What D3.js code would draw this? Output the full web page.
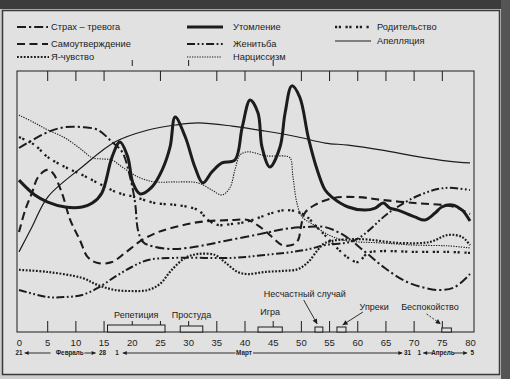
<!DOCTYPE html>
<html><head><meta charset="utf-8">
<script src="https://cdn.jsdelivr.net/npm/d3@7"></script>
<style>
body{margin:0;background:#cfcfcf;}
svg{display:block;font-family:"Liberation Sans",Arial,sans-serif;}
</style>
</head><body>
<svg id="c" width="510" height="379"></svg>
<script>
// ---------- DATA ----------
const categories = ["Страх – тревога","Самоутверждение","Я-чувство","Утомление","Женитьба","Нарциссизм","Родительство","Апелляция"];

// [day, level]
const strahTrevoga = [[0,70.5],[5.1,76.6],[8.2,78.5],[11.2,78.5],[14.0,77.4],[16.5,72.8],[18.3,69.0],[19.7,59.4],[20.6,49.4],[21.1,39.1],[22.0,34.5],[24.1,32.6],[27.7,31.8],[33.0,33.3],[36.5,34.9],[40.1,36.4],[43.6,37.9],[47.2,39.5],[50.7,40.2],[54.3,40.2],[57.8,36.8],[61.4,30.7],[64.9,24.5],[68.5,19.5],[72.0,16.9],[74.7,16.1],[77.3,17.2],[80,22.2]];
const samoutverzhdenie = [[0,38.3],[1.1,46.7],[2.3,53.3],[3.4,59.4],[5.0,62.1],[6.0,60.9],[7.6,53.3],[9.1,42.9],[10.8,35.2],[12.2,28.7],[14.0,26.4],[16.5,26.8],[18.8,30.3],[21.8,35.2],[24.7,38.3],[27.7,40.2],[31.8,42.1],[37.8,42.9],[40.6,42.9],[42.8,40.2],[44.9,36.4],[46.7,33.3],[48.4,33.3],[49.5,35.2],[50.0,40.2],[50.7,45.6],[52.5,48.7],[55.7,51.3],[60.0,51.7],[64.4,50.6],[70.2,49.4],[75.0,48.7],[77.3,47.9],[80,45.2]];
const yaChuvstvo = [[0,23.8],[5.1,23.0],[11.2,20.7],[14.0,18.0],[17.0,16.1],[20.0,15.7],[22.9,16.1],[25.0,18.4],[27.1,23.8],[29.5,28.4],[31.8,29.9],[34.8,29.5],[36.5,26.8],[38.8,23.0],[40.6,22.2],[43.6,23.0],[46.7,23.4],[49.5,24.1],[51.3,26.8],[53.0,31.4],[54.3,34.1],[60.1,35.6],[67.6,34.1],[72.9,34.5],[76.1,37.2],[78.6,36.4],[80,33.3]];
const utomlenie = [[0,58.2],[2.8,52.5],[5.1,49.8],[8.2,47.9],[11.2,47.9],[13.0,49.4],[14.7,53.3],[16.5,67.0],[17.9,72.8],[19.3,67.0],[20.2,57.1],[21.5,52.9],[23.6,55.6],[25.4,62.1],[26.8,70.9],[27.7,82.4],[29.5,74.7],[31.2,63.2],[32.6,57.1],[34.2,61.3],[36.0,64.8],[38.3,65.9],[39.6,78.5],[41.0,88.9],[42.4,83.9],[43.1,70.9],[44.5,63.2],[46.3,70.9],[47.2,83.9],[48.4,94.3],[49.8,90.0],[51.3,74.7],[52.9,62.1],[54.3,54.4],[55.5,51.7],[58.4,47.9],[61.4,46.7],[63.2,47.5],[64.6,49.4],[65.8,47.5],[67.2,46.7],[70.2,44.1],[72.0,42.9],[73.8,45.6],[75.0,47.9],[76.8,48.7],[78.6,46.7],[80,42.5]];
const zhenitba = [[0,16.1],[5.1,13.4],[8.2,13.4],[11.2,14.2],[14.0,16.9],[17.0,21.1],[20.0,24.9],[22.9,27.6],[27.7,28.4],[37.8,28.4],[43.6,29.5],[50.7,31.4],[54.3,33.3],[59.6,35.2],[65.8,46.0],[71.1,52.5],[75.6,55.2],[80,54.4]];
const nartsissizm = [[0,83.1],[2.8,80.1],[5.1,77.4],[8.2,74.3],[11.2,69.7],[13.0,66.7],[14.7,66.3],[16.5,65.9],[18.3,63.2],[21.1,59.4],[24.1,57.5],[27.7,57.5],[31.8,57.1],[34.2,54.4],[36.0,52.5],[37.4,55.2],[38.3,62.1],[39.2,67.8],[40.4,69.0],[41.9,68.6],[43.1,67.8],[44.2,67.4],[47.2,67.4],[48.1,66.7],[48.6,59.4],[49.3,49.4],[50.2,44.1],[52.0,41.4],[54.3,37.9],[57.5,35.2],[64.4,34.1],[70.2,33.3],[76.1,33.0],[80,32.2]];
const roditelstvo = [[0,74.7],[2.8,71.6],[5.1,67.0],[8.2,63.2],[11.2,60.2],[14.7,56.3],[17.6,53.3],[20.6,51.7],[24.1,49.4],[27.7,48.7],[31.8,46.7],[33.5,42.9],[35.3,41.0],[37.8,41.4],[40.1,42.1],[42.4,43.7],[44.9,45.6],[47.2,46.7],[49.5,46.0],[51.3,43.7],[53.0,39.8],[54.3,37.0],[56.5,32.0],[58.4,28.4],[60.1,26.8],[61.9,30.3],[64.4,31.0],[70.2,30.7],[76.1,30.7],[80,30.3]];
const appelyatsiya = [[0,30.7],[2.3,40.2],[5.1,51.7],[11.2,63.2],[17.0,72.8],[22.9,77.4],[27.7,79.3],[31.8,80.1],[37.8,78.9],[43.6,77.0],[49.5,74.7],[54.3,72.4],[58.4,71.6],[64.4,69.7],[70.2,67.4],[76.1,65.5],[80,64.8]];

const seriesValues = [strahTrevoga, samoutverzhdenie, yaChuvstvo, utomlenie, zhenitba, nartsissizm, roditelstvo, appelyatsiya];

const xTickLabels = [0,5,10,15,20,25,30,35,40,45,50,55,60,65,70,75,80];

const eventNames = ["Репетиция","Простуда","Игра","Несчастный случай","Упреки","Беспокойство"];
const eventStart = [15.7, 28.6, 42.4, 52.5, 56.4, 75.0];
const eventEnd   = [25.9, 32.6, 46.7, 53.9, 58.0, 76.7];

const monthLabels = ["21","Февраль","28","1","Март","31","1","Апрель","5"];
const monthDays   = [0, 9.0, 14.8, 17.4, 39.9, 68.9, 71.0, 75.2, 80.4];

// ---------- STYLES / LAYOUT ----------
const ink = "#1c1c1c";
const styles = {
  "Страх – тревога": {w:2.0, dash:"9,3,2.2,3"},
  "Самоутверждение": {w:2.1, dash:"8,4.5"},
  "Я-чувство":       {w:2.2, dash:"1.8,1.6"},
  "Утомление":       {w:3.0, dash:null},
  "Женитьба":        {w:2.0, dash:"8,2.5,1.8,2.5,1.8,2.5"},
  "Нарциссизм":      {w:1.1, dash:"1.3,1.2"},
  "Родительство":    {w:2.3, dash:"2.2,1.6,2.2,4.5"},
  "Апелляция":       {w:1.2, dash:null}
};
const legendPos = {
  "Страх – тревога": [17,48,27,51],
  "Самоутверждение": [17,48,44,51],
  "Я-чувство":       [17,49,57,51],
  "Утомление":       [187,223,27,233],
  "Женитьба":        [187,223,44,233],
  "Нарциссизм":      [187,222,57,233],
  "Родительство":    [335,370,27,377],
  "Апелляция":       [335,371,41,377]
};

const svg = d3.select("#c");
const W = 510, H = 379;
const x = d3.scaleLinear().domain([0,80]).range([19,470]);
const y = d3.scaleLinear().domain([0,100]).range([332,71]);
const plot = {x0:17, x1:474, y0:71, y1:332};

// background (scanned page)
svg.append("rect").attr("width",W).attr("height",H).attr("fill","#cdcdcd");
svg.append("rect").attr("x",2.5).attr("y",10.5).attr("width",497).attr("height",364)
  .attr("fill","#e1e1e1").attr("stroke","#3a3a3a").attr("stroke-width",1.5);
svg.append("rect").attr("x",0).attr("y",0).attr("width",W).attr("height",9).attr("fill","#3c3c3c");
svg.append("rect").attr("x",501).attr("y",0).attr("width",9).attr("height",H).attr("fill","#555");

const defs = svg.append("defs");
defs.append("clipPath").attr("id","clip").append("rect")
  .attr("x",plot.x0).attr("y",plot.y0).attr("width",plot.x1-plot.x0).attr("height",plot.y1-plot.y0);
defs.append("marker").attr("id","ah").attr("viewBox","0 0 10 10").attr("refX",10).attr("refY",5)
  .attr("markerWidth",6).attr("markerHeight",4).attr("markerUnits","userSpaceOnUse")
  .attr("orient","auto").append("path").attr("d","M0,0L10,5L0,10z").attr("fill",ink);
defs.append("marker").attr("id","ah2").attr("viewBox","0 0 10 10").attr("refX",10).attr("refY",5)
  .attr("markerWidth",6).attr("markerHeight",5).attr("markerUnits","userSpaceOnUse")
  .attr("orient","auto").append("path").attr("d","M0,0L10,5L0,10z").attr("fill",ink);

// plot frame
svg.append("rect").attr("x",plot.x0).attr("y",plot.y0).attr("width",plot.x1-plot.x0).attr("height",plot.y1-plot.y0)
  .attr("fill","none").attr("stroke",ink).attr("stroke-width",1);

// top ticks
const topAxis = d3.axisTop(x).tickValues(xTickLabels.filter(d=>d>0&&d<80)).tickSize(-10).tickFormat("");
const gt = svg.append("g").attr("transform",`translate(0,${plot.y0})`).call(topAxis);
gt.select(".domain").remove();
gt.selectAll("line").attr("stroke",ink).attr("stroke-width",1);

// bottom axis
const botAxis = d3.axisBottom(x).tickValues(xTickLabels).tickSize(-11).tickPadding(5).tickFormat(d=>d);
const gb = svg.append("g").attr("transform",`translate(0,${plot.y1})`).call(botAxis);
gb.select(".domain").remove();
gb.selectAll(".tick").filter(d=>d===0||d===80).select("line").remove();
gb.selectAll("line").attr("stroke",ink).attr("stroke-width",1);
gb.selectAll("text").attr("fill",ink).style("font-size","9.5px").style("font-family","'Liberation Sans',Arial,sans-serif")
  .attr("dy","0.9em");

// event boxes
const evH = [7,6,5,5,5,4];
eventNames.forEach((n,i)=>{
  svg.append("rect").attr("x",x(eventStart[i])).attr("y",plot.y1-evH[i])
    .attr("width",x(eventEnd[i])-x(eventStart[i])).attr("height",evH[i])
    .attr("fill","#e1e1e1").attr("stroke",ink).attr("stroke-width",1);
});
// ticks that rise above boxes
gb.selectAll(".tick").filter(d=>d===20||d===30||d===45||d===75).select("line")
  .each(function(){ this.parentNode.parentNode.appendChild(this.parentNode); });
svg.selectAll(".tick").filter(d=>d===20||d===30||d===45).select("line").attr("y1",-5).attr("y2",-11);

// event labels
const evLabelPos = {
  "Репетиция":[null,318],"Простуда":[null,318],"Игра":[null,315],
  "Несчастный случай":[50.7,297],"Упреки":[63.0,310],"Беспокойство":[72.9,310]
};
eventNames.forEach((n,i)=>{
  const p = evLabelPos[n];
  const cx = p[0]===null ? (eventStart[i]+eventEnd[i])/2 : p[0];
  svg.append("text").attr("x",x(cx)).attr("y",p[1]).attr("text-anchor","middle")
    .attr("fill",ink).style("font-size","9px").text(n);
});
// annotation arrows (label -> box)
const evArrows = [
  [50.5,300,52.9,324,null],
  [61.0,312,57.4,325,null],
  [72.3,314,74.8,324,"2,1.5"]
];
evArrows.forEach(a=>{
  svg.append("line").attr("x1",x(a[0])).attr("y1",a[1]).attr("x2",x(a[2])).attr("y2",a[3])
    .attr("stroke",ink).attr("stroke-width",0.9).attr("stroke-dasharray",a[4])
    .attr("marker-end","url(#ah2)");
});

// month row
const my = 353;
monthLabels.forEach((m,i)=>{
  svg.append("text").attr("x",x(monthDays[i])).attr("y",my+2.3).attr("text-anchor","middle")
    .attr("fill",ink).style("font-size","6.3px").style("font-weight","bold").text(m);
});
const monthArrows = [[5.6,1.0],[11.6,13.6],[38.4,18.4],[41.5,68.0],[73.3,71.7],[77.1,79.5]];
monthArrows.forEach(a=>{
  svg.append("line").attr("x1",x(a[0])).attr("y1",my).attr("x2",x(a[1])).attr("y2",my)
    .attr("stroke",ink).attr("stroke-width",0.9).attr("marker-end","url(#ah)");
});

// curves
const line = d3.line().x(d=>x(d[0])).y(d=>y(d[1])).curve(d3.curveCatmullRom.alpha(0.5));
const gc = svg.append("g").attr("clip-path","url(#clip)");
categories.forEach((c,i)=>{
  const s = styles[c];
  gc.append("path").attr("d",line(seriesValues[i])).attr("fill","none")
    .attr("stroke",ink).attr("stroke-width",s.w).attr("stroke-dasharray",s.dash)
    .attr("stroke-linejoin","round");
});

// legend
categories.forEach(c=>{
  const s = styles[c], p = legendPos[c];
  svg.append("line").attr("x1",p[0]).attr("x2",p[1]).attr("y1",p[2]).attr("y2",p[2])
    .attr("stroke",ink).attr("stroke-width",s.w).attr("stroke-dasharray",s.dash);
  svg.append("text").attr("x",p[3]).attr("y",p[2]+3.3).attr("fill",ink)
    .style("font-size","9.3px").text(c);
});
</script>
</body></html>
